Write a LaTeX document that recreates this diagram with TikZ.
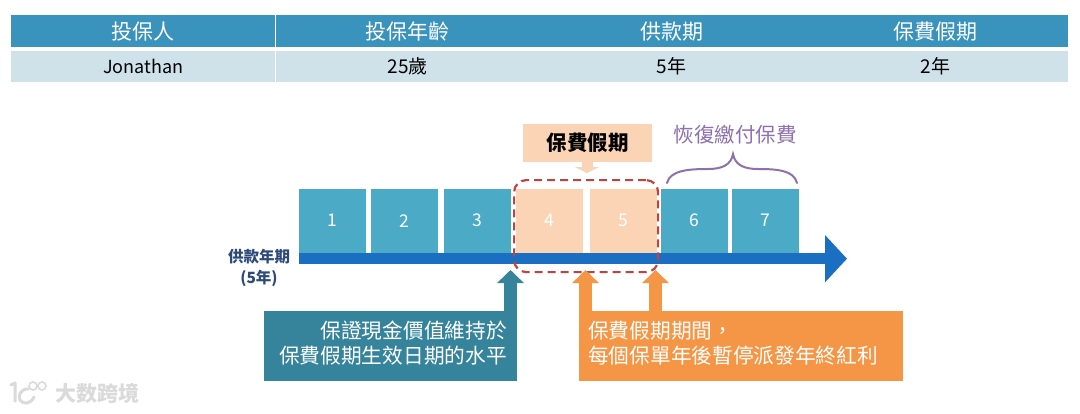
\documentclass[tikz,border=0pt]{standalone}
\usepackage{fontspec}
\setmainfont{Noto Sans CJK TC}
\usetikzlibrary{arrows.meta,positioning,calc}
\definecolor{headblue}{HTML}{3A93BC}
\definecolor{rowblue}{HTML}{CFE2EA}
\definecolor{yearteal}{HTML}{4BABC6}
\definecolor{peach}{HTML}{FBD3B5}
\definecolor{barblue}{HTML}{1B6FC2}
\definecolor{darkteal}{HTML}{35849C}
\definecolor{orangebox}{HTML}{F59646}
\definecolor{dashred}{HTML}{C0443C}
\definecolor{bracepurple}{HTML}{8E70AE}
\definecolor{navy}{HTML}{2D4A7A}
\definecolor{wmgray}{HTML}{DADADA}
\tikzset{
  cell/.style={anchor=north west,inner sep=0pt,minimum width=264pt,text=black},
  headcell/.style={cell,fill=headblue,minimum height=32pt,text=white,font=\fontsize{21}{24}\selectfont},
  rowcell/.style={cell,fill=rowblue,minimum height=31pt,font=\fontsize{18}{22}\selectfont},
  yearbox/.style={anchor=north west,inner sep=0pt,minimum width=67pt,minimum height=64pt,text=white,font=\fontsize{17.5}{20}\selectfont},
  payyear/.style={yearbox,fill=yearteal},
  holyear/.style={yearbox,fill=peach},
  blockarrow/.style={line width=13pt,-{Triangle[length=13pt,width=26pt]}},
  note/.style={anchor=north west,inner sep=0pt,text=white,font=\fontsize{20.7}{25}\selectfont},
}
\begin{document}
\begin{tikzpicture}[x=1pt,y=-1pt]
\useasboundingbox (0,0) rectangle (1080,413);
\fill[white] (0,0) rectangle (1080,413);
% table
\node[headcell,minimum width=264pt] (h1) at (11,15) {投保人};
\node[headcell] (h2) at (275.5,15) {投保年齡};
\node[headcell] (h3) at (539.5,15) {供款期};
\node[headcell] (h4) at (803.5,15) {保費假期};
\node[rowcell] (r1) at (11,51) {Jonathan};
\node[rowcell,font=\fontsize{19}{22}\selectfont] (r2) at (275.5,51) {25歲};
\node[rowcell,font=\fontsize{19}{22}\selectfont] (r3) at (539.5,51) {5年};
\node[rowcell,font=\fontsize{19}{22}\selectfont] (r4) at (803.5,51) {2年};
% year boxes
\node[payyear] (y1) at (299,188.5) {1};
\node[payyear] (y2) at (371,188.5) {2};
\node[payyear] (y3) at (444,188.5) {3};
\node[holyear] (y4) at (516,188.5) {4};
\node[holyear] (y5) at (590,188.5) {5};
\node[payyear] (y6) at (661,188.5) {6};
\node[payyear] (y7) at (732,188.5) {7};
% timeline
\coordinate (tlstart) at (299,258.7);
\coordinate (tlend) at (847,258.7);
\draw[barblue,line width=11pt,-{Triangle[length=22pt,width=46pt]}] (tlstart) -- (tlend);
\node[text=navy,align=center,inner sep=0pt,font=\fontsize{15.5}{21}\selectfont\bfseries] (tllabel) at (259,267.5) {供款年期\\(5年)};
% holiday label
\node[anchor=north west,inner sep=0pt,fill=peach,minimum width=129pt,minimum height=38pt,font=\fontsize{20.5}{24}\selectfont\bfseries] (hol) at (523,124) {保費假期};
\coordinate (holtip) at (587,173);
\draw[peach,line width=11pt,-{Triangle[length=6pt,width=24pt]}] (hol.south -| holtip) -- (holtip);
% dashed frame
\node[draw=dashred,dash pattern=on 8pt off 5pt,line width=2.2pt,rounded corners=12pt,anchor=north west,inner sep=0pt,minimum width=144pt,minimum height=92pt] (frame) at (513,179) {};
% resume
\node[text=bracepurple,inner sep=0pt,font=\fontsize{20.5}{24}\selectfont] (resume) at (735,135) {恢復繳付保費};
\coordinate (bl) at (667,183);
\coordinate (br) at (797,183);
\coordinate (bt) at (733,154);
\draw[bracepurple,line width=2pt,line cap=round] (bl) .. controls (670,170) and (690,169) .. (708,169)
  .. controls (722,169) and (731,165) .. (bt)
  .. controls (735,165) and (744,169) .. (758,169)
  .. controls (776,169) and (794,170) .. (br);
% notes
\node[anchor=north west,inner sep=0pt,fill=darkteal,minimum width=253pt,minimum height=70pt] (tealbox) at (264,311) {};
\node[note,anchor=north east,align=right] (tealtext) at (507,321) {保證現金價值維持於\\保費假期生效日期的水平};
\node[anchor=north west,inner sep=0pt,fill=orangebox,minimum width=324pt,minimum height=70pt] (orbox) at (579,311) {};
\node[note,align=left] (ortext) at (588,321) {保費假期期間，\\每個保單年後暫停派發年終紅利};
\coordinate (a1) at (510.5,270);
\coordinate (a2) at (585.5,270);
\coordinate (a3) at (655.5,270);
\draw[darkteal,blockarrow] (a1 |- tealbox.north) -- (a1);
\draw[orangebox,blockarrow] (a2 |- orbox.north) -- (a2);
\draw[orangebox,blockarrow] (a3 |- orbox.north) -- (a3);
% watermark
\node[text=wmgray,inner sep=0pt,font=\fontsize{21}{24}\selectfont\bfseries] (wm) at (98,393) {大数跨境};
\coordinate (wl) at (11,385);
\draw[wmgray,line width=3pt,line cap=round,line join=round] (wl) -- (15,383) -- (15,401);
\draw[wmgray,line width=3pt,line cap=round] (28,389) .. controls (20,389) and (18,396) .. (20,400) .. controls (23,405) and (31,404) .. (34,397);
\draw[wmgray,line width=1.6pt] (33,386) circle (4pt) (42,386) circle (4pt);
\end{tikzpicture}
\end{document}
